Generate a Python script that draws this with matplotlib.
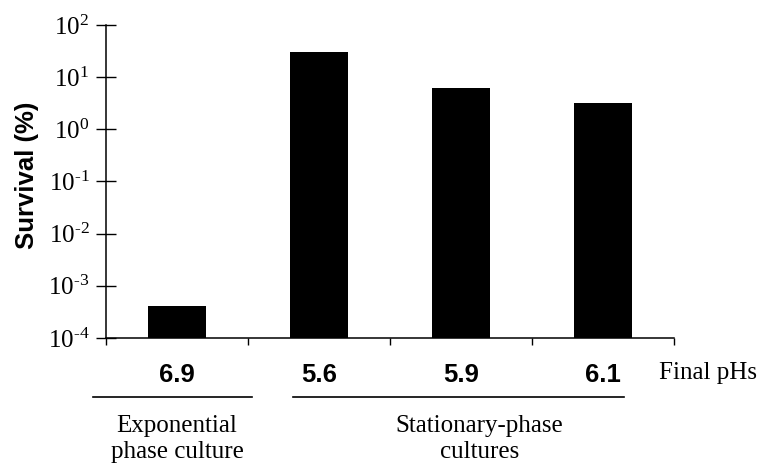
import math
import matplotlib
matplotlib.use("Agg")
import matplotlib.pyplot as plt
import matplotlib.transforms as mtransforms
from matplotlib.ticker import FixedLocator, NullFormatter

plt.rcParams['mathtext.fontset'] = 'custom'
plt.rcParams['mathtext.rm'] = 'Liberation Serif'

# data
ph_labels = ['6.9', '5.6', '5.9', '6.1']
survival = [4.1e-4, 30.0, 6.2, 3.2]
group_names = ['Exponential\nphase culture', 'Stationary-phase\ncultures']
group_spans = [(-0.59, 0.53), (0.82, 3.15)]
group_centers = [0.0, 2.13]
y_ticks = [1e-4, 1e-3, 1e-2, 1e-1, 1e0, 1e1, 1e2]

serif = 'Liberation Serif'
sans = 'Liberation Sans'

fig = plt.figure(figsize=(7.64, 4.66), dpi=100)
ax = fig.add_axes([0.1387, 0.2747, 0.8822 - 0.1387, 0.9464 - 0.2747])

ax.set_yscale('log')
x = list(range(len(survival)))
ax.bar(x, survival, width=0.41, color='black', zorder=2)

ax.set_xlim(-0.5, len(survival) - 0.5)
ax.set_ylim(1e-4, 1e2)


def exp_label(v):
    e = round(math.log10(v))
    # reference prints a plain hyphen, not a minus sign
    sup = r'\text{-}%d' % abs(e) if e < 0 else '%d' % e
    return r'$\mathregular{10^{%s}}$' % sup


# y axis
ax.yaxis.set_major_locator(FixedLocator(y_ticks))
ax.yaxis.set_minor_locator(FixedLocator([]))
ax.set_yticklabels([exp_label(t) for t in y_ticks], fontfamily=serif, fontsize=18)
ax.tick_params(axis='y', direction='inout', length=14, width=1.0, pad=5)

# x axis: ticks between categories, no labels there
ax.xaxis.set_major_locator(FixedLocator([i - 0.5 for i in range(len(survival) + 1)]))
ax.xaxis.set_major_formatter(NullFormatter())
ax.tick_params(axis='x', direction='out', length=5, width=1.0)

for side in ['top', 'right']:
    ax.spines[side].set_visible(False)
for side in ['left', 'bottom']:
    ax.spines[side].set_linewidth(1.1)

ax.set_ylabel('Survival (%)', fontfamily=sans, fontweight='bold', fontsize=18.5)
ax.yaxis.set_label_coords(-0.118, 0.52)

trans = mtransforms.blended_transform_factory(ax.transData, fig.transFigure)

# pH labels under each bar
for xi, lab in zip(x, ph_labels):
    ax.text(xi, 0.196, lab, transform=trans, ha='center', va='center',
            fontfamily=sans, fontweight='bold', fontsize=18.5)
fig.text(0.862, 0.199, 'Final pHs', ha='left', va='center', fontfamily=serif, fontsize=18)

# group lines and names
for (x0, x1), xc, name in zip(group_spans, group_centers, group_names):
    ax.plot([x0, x1], [0.148, 0.148], transform=trans, color='black', lw=1.2, clip_on=False)
    ax.text(xc, 0.058, name, transform=trans, ha='center', va='center',
            fontfamily=serif, fontsize=18, linespacing=1.25)

fig.savefig('out.png', dpi=100)
